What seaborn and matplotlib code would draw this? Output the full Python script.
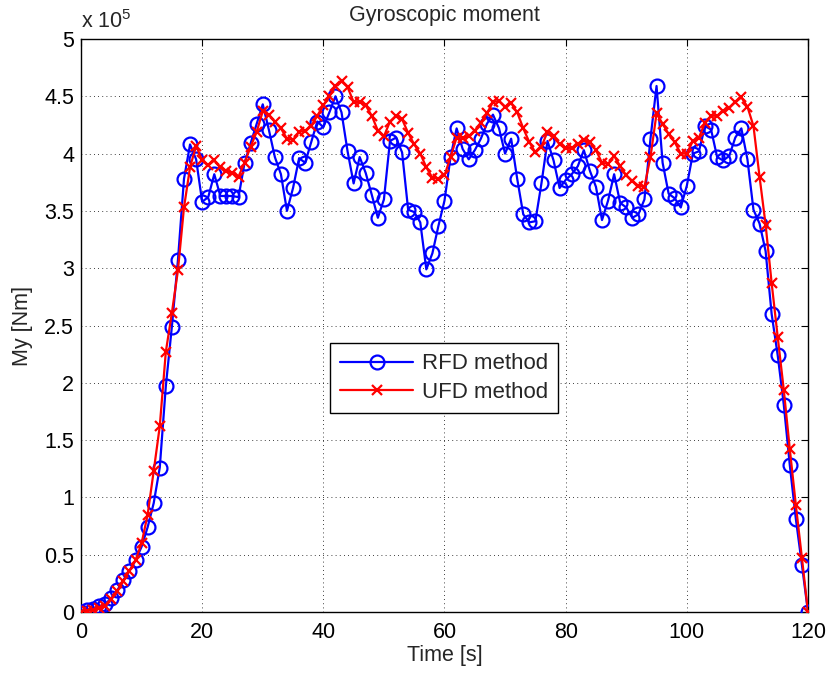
import numpy as np
import pandas as pd
import matplotlib
matplotlib.use("Agg")
import matplotlib.pyplot as plt
import seaborn as sns
from matplotlib.ticker import FuncFormatter, MultipleLocator

# ---- data (moment values in units of 1e5 Nm) ----
time_s = list(range(0, 121))

rfd = [0.00, 0.015, 0.03, 0.05, 0.07, 0.12, 0.19, 0.28, 0.36, 0.45,
       0.57, 0.74, 0.95, 1.26, 1.97, 2.49, 3.07, 3.78, 4.08, 3.95,
       3.58, 3.62, 3.82, 3.63, 3.63, 3.63, 3.62, 3.92, 4.09, 4.26,
       4.43, 4.21, 3.97, 3.82, 3.50, 3.70, 3.96, 3.92, 4.10, 4.28,
       4.23, 4.36, 4.50, 4.36, 4.02, 3.74, 3.97, 3.83, 3.64, 3.44,
       3.60, 4.11, 4.14, 4.01, 3.51, 3.49, 3.40, 2.99, 3.13, 3.37,
       3.59, 3.97, 4.22, 4.04, 3.95, 4.03, 4.13, 4.26, 4.34, 4.22,
       4.00, 4.13, 3.78, 3.47, 3.40, 3.41, 3.74, 4.11, 3.94, 3.70,
       3.77, 3.82, 3.89, 4.03, 3.85, 3.71, 3.42, 3.59, 3.82, 3.57,
       3.53, 3.44, 3.47, 3.60, 4.13, 4.59, 3.92, 3.65, 3.61, 3.53,
       3.72, 4.00, 4.02, 4.24, 4.21, 3.97, 3.94, 3.98, 4.14, 4.22,
       3.95, 3.51, 3.39, 3.15, 2.60, 2.24, 1.81, 1.28, 0.81, 0.41,
       0.00]

ufd = [0.00, 0.01, 0.02, 0.035, 0.05, 0.11, 0.18, 0.27, 0.36, 0.45,
       0.60, 0.85, 1.23, 1.62, 2.27, 2.61, 2.98, 3.53, 3.88, 4.07,
       3.94, 3.90, 3.94, 3.88, 3.85, 3.83, 3.80, 3.92, 4.06, 4.19,
       4.37, 4.34, 4.28, 4.22, 4.13, 4.12, 4.19, 4.20, 4.24, 4.33,
       4.42, 4.50, 4.59, 4.63, 4.58, 4.45, 4.45, 4.42, 4.33, 4.20,
       4.15, 4.28, 4.33, 4.30, 4.18, 4.08, 4.00, 3.88, 3.79, 3.78,
       3.81, 3.97, 4.14, 4.14, 4.15, 4.20, 4.27, 4.35, 4.45, 4.46,
       4.41, 4.44, 4.36, 4.22, 4.10, 4.01, 4.06, 4.19, 4.15, 4.08,
       4.05, 4.05, 4.08, 4.12, 4.10, 4.03, 3.92, 3.91, 3.98, 3.89,
       3.81, 3.76, 3.72, 3.71, 3.97, 4.35, 4.26, 4.17, 4.10, 4.00,
       4.00, 4.11, 4.14, 4.27, 4.33, 4.33, 4.37, 4.40, 4.45, 4.49,
       4.41, 4.24, 3.80, 3.38, 2.87, 2.40, 1.94, 1.42, 0.93, 0.47,
       0.00]

series_names = ["RFD method", "UFD method"]
title = "Gyroscopic moment"
xlabel = "Time [s]"
ylabel = "My [Nm]"

# ---- style ----
sns.set_style("white")
plt.rcParams["font.family"] = ["Liberation Sans", "DejaVu Sans"]
plt.rcParams["mathtext.fontset"] = "custom"
plt.rcParams["mathtext.rm"] = "Liberation Sans"
FS = 15.5

fig = plt.figure(figsize=(8.29, 6.75), dpi=100)
ax = fig.add_axes([81 / 829, 63 / 675, 727 / 829, 573 / 675])

df_r = pd.DataFrame({"t": time_s, "v": rfd})
df_u = pd.DataFrame({"t": time_s, "v": ufd})

sns.lineplot(data=df_r, x="t", y="v", ax=ax, color="#0000ff", lw=1.6,
             marker="o", markersize=10, markerfacecolor="none",
             markeredgecolor="#0000ff", markeredgewidth=1.6,
             label=series_names[0], zorder=3)
sns.lineplot(data=df_u, x="t", y="v", ax=ax, color="#ff0000", lw=1.6,
             marker="x", markersize=7, markeredgecolor="#ff0000",
             markeredgewidth=1.6, label=series_names[1], zorder=4)

ax.set_xlim(0, 120)
ax.set_ylim(0, 5)
ax.xaxis.set_major_locator(MultipleLocator(20))
ax.yaxis.set_major_locator(MultipleLocator(0.5))
ax.yaxis.set_major_formatter(FuncFormatter(lambda v, p: "%g" % v))

ax.grid(True, color="black", linestyle=(0, (1, 4)), linewidth=0.6)
for s in ax.spines.values():
    s.set_visible(True)
    s.set_color("black")
    s.set_linewidth(1.0)
ax.tick_params(direction="in", top=True, right=True, length=5, width=0.8,
               labelsize=FS, colors="black")
ax.tick_params(axis="x", pad=7)
ax.tick_params(axis="y", pad=5)

ax.set_title(title, fontsize=FS, pad=13)
ax.set_xlabel(xlabel, fontsize=FS, labelpad=2)
ax.set_ylabel(ylabel, fontsize=FS, labelpad=8)
ax.text(0.0, 1.019, r"x 10$^{5}$", transform=ax.transAxes, ha="left",
        va="baseline", fontsize=FS)

leg = ax.legend(loc="center", bbox_to_anchor=(0.4995, 0.408), fontsize=16,
                frameon=True, fancybox=False, framealpha=1, edgecolor="black",
                handlelength=3.3, borderpad=0.45, labelspacing=0.35,
                handletextpad=0.4, borderaxespad=0)
leg.get_frame().set_linewidth(1.0)

fig.savefig("out.png", dpi=100)
